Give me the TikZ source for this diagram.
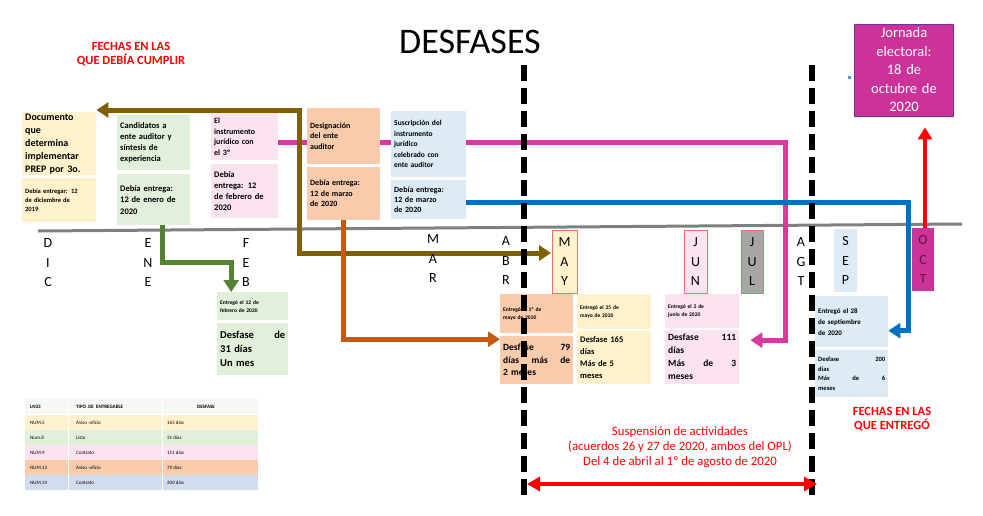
\documentclass[tikz,border=0pt]{standalone}
\usepackage{fontspec}
\setmainfont{Carlito}
\usetikzlibrary{arrows.meta,backgrounds}
\definecolor{boxyellow}{HTML}{FFF2CC}
\definecolor{boxgreen}{HTML}{E2EFDA}
\definecolor{boxpink}{HTML}{FBE3F0}
\definecolor{boxorange}{HTML}{F8CBAD}
\definecolor{boxblue}{HTML}{DDEBF7}
\definecolor{boxlilac}{HTML}{D3DBEF}
\definecolor{linkolive}{HTML}{7F6000}
\definecolor{linkgreen}{HTML}{548235}
\definecolor{linkorange}{HTML}{C55A11}
\definecolor{linkpink}{HTML}{D9399E}
\definecolor{linkblue}{HTML}{0070C0}
\definecolor{alertred}{HTML}{FF0000}
\definecolor{axisgray}{HTML}{808080}
\definecolor{votemagenta}{HTML}{CC3399}
\definecolor{votepurple}{HTML}{7030A0}
\definecolor{monthred}{HTML}{F07070}
\newcommand{\setsz}[2]{\fontsize{#1}{#2}\selectfont}

\begin{document}
\begin{tikzpicture}[x=1pt,y=-1pt,
  card/.style 2 args={anchor=north west,inner xsep=3pt,inner ysep=1pt,text width=#1,minimum height=#2,align=left,font=\bfseries},
  month/.style={inner sep=1pt,align=center,font={\setsz{14}{19.5}}},
  monthbox/.style={month,minimum height=63pt,minimum width=#1},
  link/.style={line width=5pt,>={Triangle[width=15pt,length=12pt]},->},
  cutline/.style={line width=6pt,dash pattern=on 16pt off 7pt},
  note/.style={text=alertred,align=center,font={\bfseries\setsz{12.5}{14.5}}},
  cell/.style={anchor=west,inner sep=0pt,font={\setsz{5}{6}}}]
  \useasboundingbox (0,0) rectangle (983,515);

  % titles
  \node[font={\setsz{36}{40}}] (title) at (470,42) {DESFASES};
  \node[note] (dueNote) at (131,54) {FECHAS EN LAS\\QUE DEBÍA CUMPLIR};
  \node[note] (gotNote) at (892,419) {FECHAS EN LAS\\QUE ENTREGÓ};
  \node[text=alertred,align=center,font={\setsz{12.8}{15.2}}] (pauseNote) at (680,447)
    {Suspensión de actividades\\(acuerdos 26 y 27 de 2020, ambos del OPL)\\Del 4 de abril al 1º de agosto de 2020};

  % due dates
  \node[card={68pt}{63pt},fill=boxyellow,font={\bfseries\setsz{10}{13}},inner ysep=0pt] (dicTop) at (22,112)
    {Documento\\que\\determina\\implementar\\PREP por 3o.};
  \node[card={68pt}{44pt},fill=boxyellow,font={\bfseries\setsz{6.5}{9}}] (dicLow) at (22,178)
    {Debía entregar: 12\\de diciembre de\\2019};
  \node[card={67pt}{55pt},fill=boxgreen,font={\bfseries\setsz{8.5}{10.8}}] (eneTop) at (117,115)
    {Candidatos a\\ente auditor y\\síntesis de\\experiencia};
  \node[card={67pt}{51pt},fill=boxgreen,font={\bfseries\setsz{8.5}{11.5}}] (eneLow) at (117,174)
    {Debía entrega:\\12 de enero de\\2020};
  \node[card={61pt}{47pt},fill=boxpink,font={\bfseries\setsz{8}{10.5}}] (febTop) at (211,113)
    {El\\instrumento\\jurídico con\\el 3º};
  \node[card={61pt}{54pt},fill=boxpink,font={\bfseries\setsz{8.5}{11}}] (febLow) at (211,164)
    {Debía\\entrega: 12\\de febrero de\\2020};
  \node[card={67pt}{56pt},fill=boxorange,font={\bfseries\setsz{8}{10.5}}] (marTop) at (307,108)
    {Designación\\del ente\\auditor};
  \node[card={67pt}{53pt},fill=boxorange,font={\bfseries\setsz{8}{10.5}}] (marLow) at (307,167)
    {Debía entrega:\\12 de marzo\\de 2020};
  \node[card={69pt}{66pt},fill=boxblue,font={\bfseries\setsz{7.5}{10.5}}] (susTop) at (391,111)
    {Suscripción del\\instrumento\\jurídico\\celebrado con\\ente auditor};
  \node[card={69pt}{39pt},fill=boxblue,font={\bfseries\setsz{8}{10}}] (susLow) at (391,180)
    {Debía entrega:\\12 de marzo\\de 2020};

  % months
  \node[month] (mDIC) at (48,263) {D\\I\\C};
  \node[month] (mENE) at (148,263) {E\\N\\E};
  \node[month] (mFEB) at (246,263) {F\\E\\B};
  \node[month] (mMAR) at (433,259) {M\\A\\R};
  \node[month] (mABR) at (506,261) {A\\B\\R};
  \node[monthbox=25pt,fill=boxyellow,draw=monthred] (mMAY) at (564.5,262) {M\\A\\Y};
  \node[monthbox=23pt,fill=boxpink,draw=monthred] (mJUN) at (695.5,262) {J\\U\\N};
  \node[monthbox=22pt,fill=black!35,draw=monthred] (mJUL) at (752,262) {J\\U\\L};
  \node[month] (mAGT) at (801,262) {A\\G\\T};
  \node[monthbox=23pt,fill=boxblue] (mSEP) at (845.5,260.5) {S\\E\\P};
  \node[monthbox=22pt,fill=votemagenta,text=votemagenta!45!black] (mOCT) at (923,259.5) {O\\C\\T};

  % delivered
  \node[card={65pt}{28pt},fill=boxgreen,font={\bfseries\setsz{5.5}{8}}] (entFeb) at (217,292)
    {Entregó el 12 de\\febrero de 2020};
  \node[card={65pt}{52pt},fill=boxgreen,font={\bfseries\setsz{10.5}{14}}] (desFeb) at (217,323)
    {Desfase\hfill de\\31 días\\Un mes};
  \node[card={67pt}{39pt},fill=boxorange,font={\bfseries\setsz{5.5}{8}}] (entMay) at (500,294)
    {Entregó el 1º de\\mayo de 2020};
  \node[card={67pt}{48pt},fill=boxorange,font={\bfseries\setsz{9.5}{12.5}}] (desMay) at (500,336)
    {Desfase\hfill 79\\días\hfill más\hfill de\\2 meses};
  \node[card={68pt}{35pt},fill=boxyellow,font={\bfseries\setsz{5.5}{8}}] (entMayb) at (577,294)
    {Entregó el 25 de\\mayo de 2020};
  \node[card={68pt}{53pt},fill=boxyellow,font={\bfseries\setsz{8.5}{12}}] (desMayb) at (577,331)
    {Desfase 165\\días\\Más de 5\\meses};
  \node[card={68pt}{34pt},fill=boxpink,font={\bfseries\setsz{5.5}{8}}] (entJun) at (665,294)
    {Entregó el 2 de\\junio de 2020};
  \node[card={68pt}{54pt},fill=boxpink,font={\bfseries\setsz{9.5}{13}}] (desJun) at (665,330)
    {Desfase\hfill 111\\días\\Más\hfill de\hfill 3\\meses};
  \node[card={67pt}{51pt},fill=boxblue,font={\bfseries\setsz{7}{11}}] (entSep) at (815,296)
    {Entregó el 28\\de septiembre\\de 2020};
  \node[card={67pt}{47pt},fill=boxblue,font={\bfseries\setsz{6.5}{9.5}}] (desSep) at (815,350)
    {Desfase\hfill 200\\días\\Más\hfill de\hfill 6\\meses};

  \node[fill=votemagenta,draw=votepurple,line width=0.8pt,minimum width=98pt,minimum height=92pt,
    text width=92pt,align=center,text=white,font={\setsz{14.5}{18.5}}] (jornada) at (904,70)
    {Jornada\\electoral:\\18 de\\octubre de\\2020};
  \node[fill=linkblue!70,inner sep=0pt,minimum size=3pt] (blueDot) at (849,77) {};

  % summary table
  \fill[gray!6] (25,399) rectangle (258,414);
  \node[cell,font={\bfseries\setsz{5}{6}}] (headNum) at (30,407) {LN33};
  \node[cell,font={\bfseries\setsz{5}{6}}] (headKind) at (76,407) {TIPO\ \ DE\ \ ENTREGABLE};
  \node[cell,anchor=center,font={\bfseries\setsz{5}{6}}] (headGap) at (206,407) {DESFASE};
  \foreach \row/\num/\kind/\gap/\shade in {
    1/NUM.5/Aviso -oficio/165 días/boxyellow,
    2/Num.8/Lista/31 días/boxgreen,
    3/NUM.9/Contrato/111 días/boxpink,
    4/NUM.13/Aviso -oficio/79 días/boxorange,
    5/NUM.14/Contrato/200 días/boxlilac} {
    \pgfmathsetmacro{\ytop}{400+15*\row}
    \fill[\shade] (25,\ytop) rectangle (258,\ytop+14.5);
    \node[cell] (num\row) at (30,\ytop+7.5) {\num};
    \node[cell] (kind\row) at (76,\ytop+7.5) {\kind};
    \node[cell] (gap\row) at (167,\ytop+7.5) {\gap};
  }
  \draw[white,line width=1pt] (68,399) -- (68,491) (162,399) -- (162,491);

  % connectors
  \coordinate (olTurn) at (299,110);
  \coordinate (olEnd) at (551,253);
  \coordinate (pkTurn) at (785,142);
  \coordinate (blTurn) at (908,202);
  \begin{pgfonlayer}{background}
    \draw[axisgray,line width=3pt] (38,231) -- (962,224);
    \draw[link,linkpink] (febTop.east |- pkTurn) -- (pkTurn) |- ([xshift=11pt,yshift=17pt]desJun.east);
    \draw[link,linkolive,<->] (dicTop.north east |- olTurn) -- (olTurn) |- (olEnd);
    \draw[link,linkgreen] ([xshift=8.5pt]eneLow.south) -- ++(0,37) -| ([xshift=-21.5pt]entFeb.north);
    \draw[link,linkorange] (marLow.south) |- ([yshift=21pt]desMay.west);
    \draw[link,linkblue] (susLow.east |- blTurn) -- (blTurn) |- ([yshift=-9pt]entSep.east);
  \end{pgfonlayer}

  % suspension period
  \draw[cutline] (524,65) -- (524,498);
  \draw[cutline] (812,65) -- (812,498);
  \coordinate (pauseL) at (527,484);
  \coordinate (pauseR) at (817,484);
  \draw[alertred,line width=4pt,>={Triangle[width=14pt,length=13pt]},<->] (pauseL) -- (pauseR);
  \draw[alertred,line width=4pt,>={Triangle[width=14pt,length=12pt]},->] ([xshift=2pt]mOCT.north) -- ([xshift=2pt,yshift=-11pt]mOCT.north |- jornada.south);
\end{tikzpicture}
\end{document}
